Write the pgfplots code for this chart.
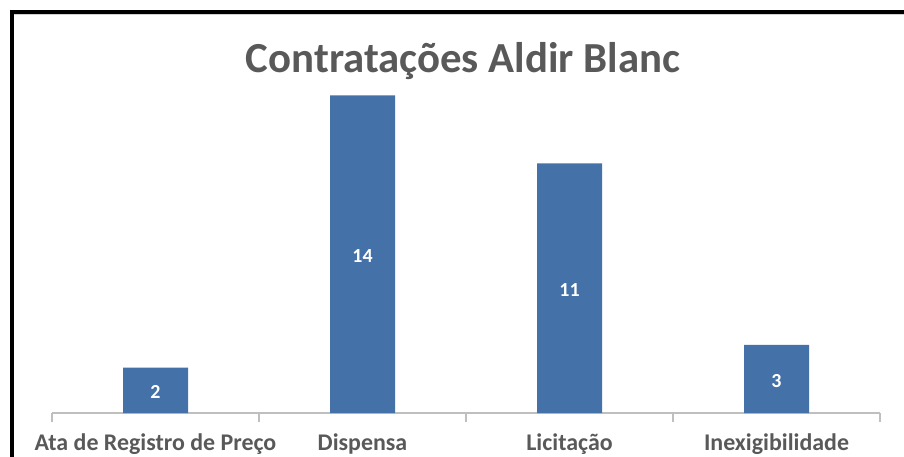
\documentclass[border=0pt]{standalone}
\usepackage{pgfplots}
\pgfplotsset{compat=1.18}
\usepackage{fontspec}
\setmainfont{Carlito}
\definecolor{barblue}{HTML}{4472A8}
\definecolor{txtgray}{HTML}{595959}
\definecolor{axgray}{HTML}{BFBFBF}
\begin{document}
\begin{tikzpicture}
\useasboundingbox (0bp,0bp) rectangle (904bp,457bp);
\fill[white] (0bp,0bp) rectangle (904bp,457bp);
\draw[line width=4bp] (12bp,-20bp) -- (12bp,445bp) -- (930bp,445bp);
\draw[gray!35, line width=1bp] (14bp,442.5bp) -- (930bp,442.5bp);
\node[anchor=base, font=\bfseries\fontsize{43}{46}\selectfont, text=txtgray, inner sep=0pt] at (463bp,384bp) {Contratações Aldir Blanc};
\begin{axis}[
  at={(52bp,44bp)}, anchor=south west, scale only axis,
  width=828bp, height=363bp,
  xmin=-0.5, xmax=3.5, ymin=0, ymax=16,
  axis x line=bottom, axis y line=none,
  x axis line style={-, draw=axgray, line width=1.2bp},
  xtick={0,1,2,3},
  xticklabels={Ata de Registro de Preço, Dispensa, Licitação, Inexigibilidade},
  major tick length=0pt,
  major x tick style={draw=none},
  minor xtick={-0.5,0.5,1.5,2.5,3.5},
  minor x tick style={draw=axgray, line width=1.2bp},
  minor tick length=9bp,
  tick align=outside,
  ytick=\empty,
  xticklabel style={font=\bfseries\fontsize{24}{26}\selectfont, text=txtgray, anchor=base, yshift=-37bp, inner sep=0pt},
  ybar, bar width=65bp,
  clip=false,
  /pgf/number format/assume math mode=true,
  nodes near coords,
  point meta=y,
  visualization depends on={y \as \rawy},
  every node near coord/.append style={font=\bfseries\fontsize{20}{22}\selectfont, text=white, anchor=center, yshift=-2bp, shift={(axis direction cs:0,-\rawy/2)}},
]
\addplot[fill=barblue, draw=none] coordinates {(0,2) (1,14) (2,11) (3,3)};
\end{axis}
\end{tikzpicture}
\end{document}
